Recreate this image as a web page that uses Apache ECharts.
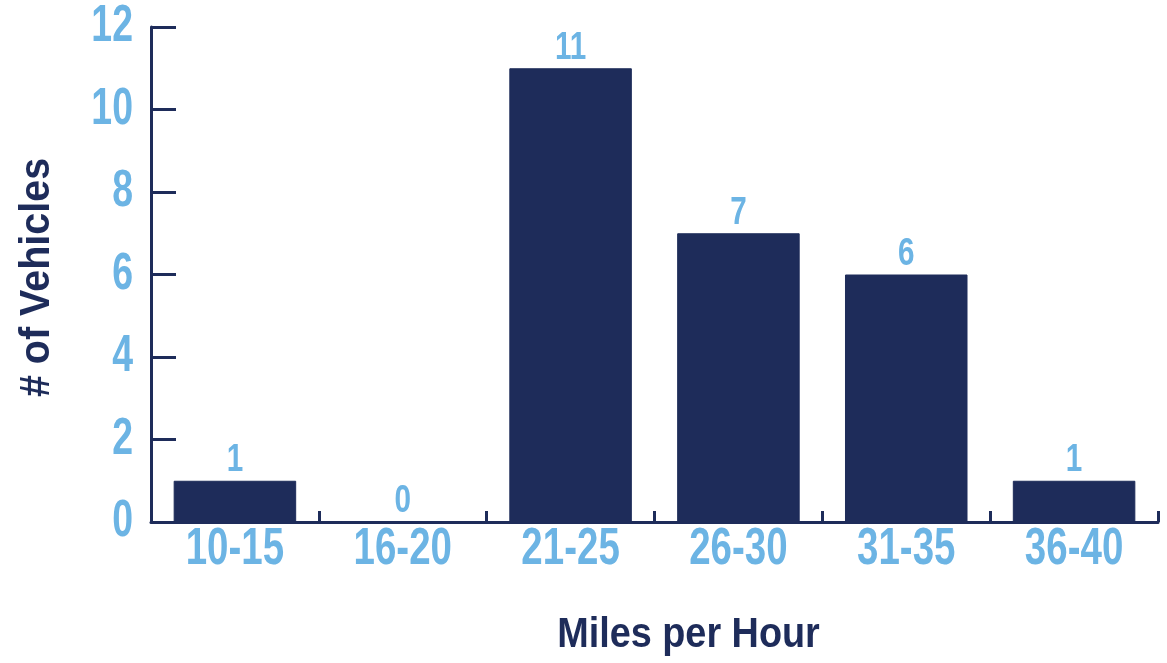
<!DOCTYPE html>
<html>
<head>
<meta charset="utf-8">
<script src="https://cdn.jsdelivr.net/npm/echarts@6/dist/echarts.min.js"></script>
<style>
  html, body { margin: 0; padding: 0; background: #ffffff; }
  #chart { width: 1167px; height: 663px; }
</style>
</head>
<body>
<div id="chart"></div>
<script>
// Speed bins (mph) and vehicle counts
const speedBins = ['10-15', '16-20', '21-25', '26-30', '31-35', '36-40'];
const vehicleCounts = [1, 0, 11, 7, 6, 1];
const yTickValues = [0, 2, 4, 6, 8, 10, 12];
const xAxisTitle = 'Miles per Hour';
const yAxisTitle = '# of Vehicles';

const NAVY = '#1e2c5a';
const SKY = '#6cb4e4';
const FAMILY = '"Liberation Sans", Arial, sans-serif';
// heavy, narrow lettering: bold glyphs squeezed horizontally
const SQUEEZE = 0.74;

const chart = echarts.init(document.getElementById('chart'), null, { renderer: 'canvas' });
chart.setOption({
  animation: false,
  backgroundColor: '#ffffff',
  grid: { left: 151, right: 9, top: 27, bottom: 141, containLabel: false },
  xAxis: {
    type: 'category',
    data: speedBins,
    axisLine: { show: true, lineStyle: { color: NAVY, width: 3 } },
    axisTick: { show: true, inside: true, length: 11, interval: 0, alignWithLabel: false, lineStyle: { color: NAVY, width: 3 } },
    axisLabel: { show: false },
    splitLine: { show: false }
  },
  yAxis: {
    type: 'value',
    min: yTickValues[0],
    max: yTickValues[yTickValues.length - 1],
    interval: yTickValues[1] - yTickValues[0],
    axisLine: { show: true, lineStyle: { color: NAVY, width: 3 } },
    axisTick: { show: true, inside: true, length: 25, lineStyle: { color: NAVY, width: 3 } },
    axisLabel: { show: false },
    splitLine: { show: false }
  },
  series: [{
    type: 'bar',
    data: vehicleCounts,
    barCategoryGap: '27%',
    itemStyle: { color: NAVY, borderColor: NAVY, borderWidth: 1 },
    label: { show: false }
  }]
});

// Text is placed through the chart's own coordinate conversion
const toX = i => chart.convertToPixel({ xAxisIndex: 0 }, i);
const toY = v => chart.convertToPixel({ yAxisIndex: 0 }, v);
const band = toX(1) - toX(0);
const axisLeft = toX(0) - band / 2;
const axisRight = toX(speedBins.length - 1) + band / 2;
const axisBase = toY(0);
const axisTop = toY(yTickValues[yTickValues.length - 1]);

function label(text, x, y, size, color, align, scaleX, rotation) {
  return {
    type: 'text',
    x: x, y: y,
    scaleX: scaleX,
    rotation: rotation || 0,
    silent: true,
    style: {
      text: text,
      fill: color,
      fontFamily: FAMILY,
      fontWeight: 'bold',
      fontSize: size,
      align: align,
      verticalAlign: 'middle',
      textAlign: align,
      textVerticalAlign: 'middle'
    }
  };
}

const texts = [];
// category labels under the axis
speedBins.forEach((c, i) => texts.push(label(c, toX(i), axisBase + 28, 52, SKY, 'center', SQUEEZE)));
// value-axis tick labels
yTickValues.forEach(v => texts.push(label(String(v), axisLeft - 18, toY(v), 52, SKY, 'right', 0.72)));
// counts above the bars
vehicleCounts.forEach((v, i) => texts.push(label(String(v), toX(i), toY(v) - 20, 38, SKY, 'center', 0.78)));
// axis titles
texts.push(label(xAxisTitle, (axisLeft + axisRight) / 2 + 34, axisBase + 113, 42, NAVY, 'center', 0.9));
texts.push(label(yAxisTitle, axisLeft - 114, (axisTop + axisBase) / 2 + 3, 42, NAVY, 'center', 0.94, Math.PI / 2));

chart.setOption({ graphic: { elements: texts } });
</script>
</body>
</html>
